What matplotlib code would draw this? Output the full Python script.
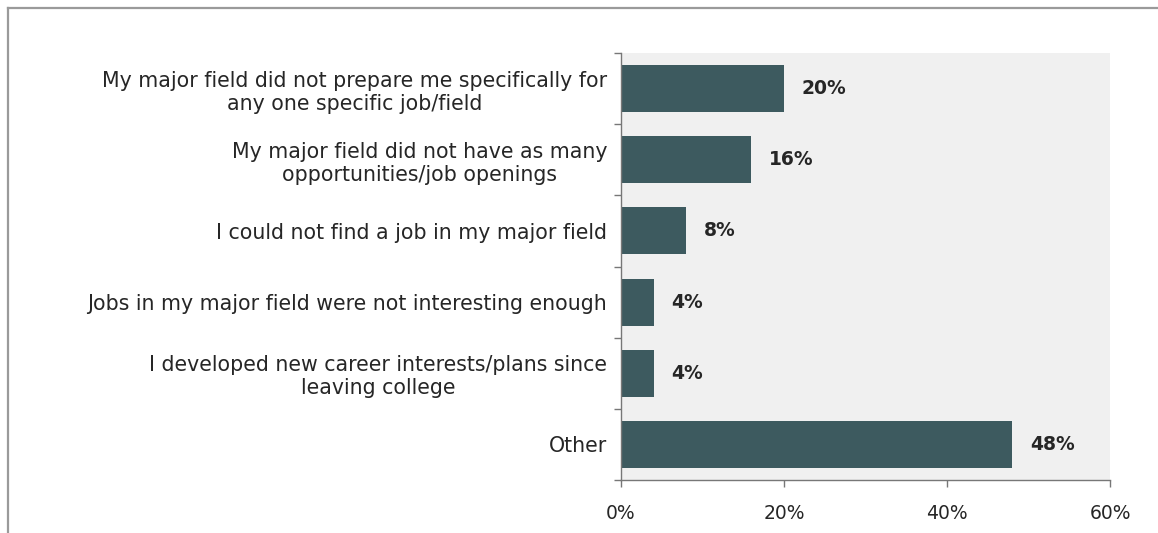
import matplotlib
matplotlib.use("Agg")
import matplotlib.pyplot as plt
from matplotlib.lines import Line2D
from matplotlib.ticker import FixedLocator

categories = [
    "My major field did not prepare me specifically for\nany one specific job/field",
    "My major field did not have as many\nopportunities/job openings",
    "I could not find a job in my major field",
    "Jobs in my major field were not interesting enough",
    "I developed new career interests/plans since\nleaving college",
    "Other",
]
values = [20, 16, 8, 4, 4, 48]
xticks = [0, 20, 40, 60]
xticklabels = ["0%", "20%", "40%", "60%"]

plt.rcParams['font.family'] = ['DejaVu Sans']
text_color = "#262626"
bar_color = "#3d5a5f"
fs = 13.5

fig = plt.figure(figsize=(11.58, 5.33), dpi=100)
ax = fig.add_axes([0.5363, 0.0994, 0.4223, 0.8011])
ax.set_facecolor("#f0f0f0")

y = list(range(len(categories)))
ax.barh(y, values, height=0.66, color=bar_color)
for yi, v in zip(y, values):
    ax.text(v + 2.2, yi, f"{v}%", va="center", ha="left", fontsize=fs,
            fontweight="bold", color=text_color)

ax.set_xlim(0, 60)
ax.set_ylim(len(categories) - 0.5, -0.5)
ax.set_xticks(xticks)
ax.set_xticklabels(xticklabels, fontsize=fs, color=text_color)
ax.set_yticks(y)
ax.set_yticklabels(categories, fontsize=14.8, color=text_color, multialignment="center",
                   linespacing=1.2)
ax.yaxis.set_minor_locator(FixedLocator([i - 0.5 for i in range(len(categories) + 1)]))
ax.tick_params(axis="y", which="major", length=0, pad=10)
ax.tick_params(axis="y", which="minor", length=5, width=1, color="#777777", direction="out")
ax.tick_params(axis="x", which="major", length=5, width=1, color="#777777", pad=12)
for s in ["top", "right"]:
    ax.spines[s].set_visible(False)
for s in ["left", "bottom"]:
    ax.spines[s].set_color("#777777")
    ax.spines[s].set_linewidth(1)

# figure border lines
fig.add_artist(Line2D([8/1158, 8/1158], [0, 1 - 8/533], transform=fig.transFigure,
                      color="#9a9a9a", linewidth=1.6))
fig.add_artist(Line2D([8/1158, 1], [1 - 8/533, 1 - 8/533], transform=fig.transFigure,
                      color="#9a9a9a", linewidth=1.6))

fig.savefig("out.png", dpi=100, facecolor="white")
